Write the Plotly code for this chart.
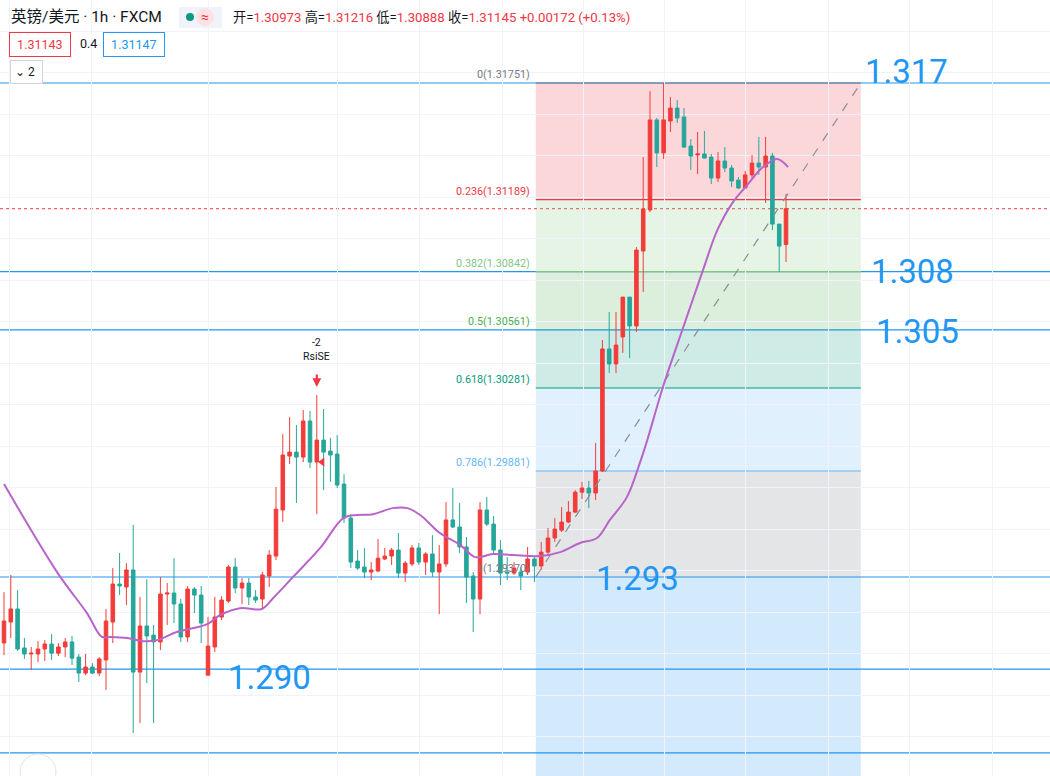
import plotly.graph_objects as go

# ---------------- data ----------------
opens = [1.29052, 1.29153, 1.29216, 1.29028, 1.28999, 1.28999, 1.29023, 1.29047, 1.29003, 1.29033,
         1.29057, 1.28984, 1.28907, 1.28936, 1.28907, 1.28970, 1.29153, 1.29336, 1.29322, 1.29404,
         1.28912, 1.29134, 1.29090, 1.29057, 1.29288, 1.29293, 1.29240, 1.29081, 1.29312, 1.29283,
         1.28897, 1.29033, 1.29177, 1.29254, 1.29418, 1.29317, 1.29341, 1.29274, 1.29264, 1.29375,
         1.29471, 1.29693, 1.29953, 1.29972, 1.29948, 1.30122, 1.29924, 1.30030, 1.29977, 1.29963,
         1.29818, 1.29654, 1.29447, 1.29418, 1.29394, 1.29399, 1.29457, 1.29471, 1.29500, 1.29389,
         1.29433, 1.29510, 1.29442, 1.29481, 1.29394, 1.29433, 1.29645, 1.29611, 1.29515, 1.29375,
         1.29264, 1.29693, 1.29625, 1.29500, 1.29394, 1.29389, 1.29394, 1.29394, 1.29457, 1.29423,
         1.29490, 1.29558, 1.29596, 1.29635, 1.29683, 1.29779, 1.29799, 1.29775, 1.29881, 1.30469,
         1.30397, 1.30527, 1.30719, 1.30580, 1.30941, 1.31139, 1.31573, 1.31414, 1.31568, 1.31630,
         1.31587, 1.31447, 1.31404, 1.31409, 1.31394, 1.31293, 1.31375, 1.31341, 1.31283, 1.31245,
         1.31308, 1.31365, 1.31346, 1.31399, 1.31071, 1.30973]
highs = [1.29297, 1.29380, 1.29307, 1.29076, 1.29033, 1.29061, 1.29066, 1.29095, 1.29052, 1.29076,
         1.29086, 1.28999, 1.28999, 1.28955, 1.28984, 1.29216, 1.29413, 1.29486, 1.29437, 1.29621,
         1.29274, 1.29360, 1.29139, 1.29370, 1.29341, 1.29461, 1.29264, 1.29327, 1.29322, 1.29327,
         1.29177, 1.29274, 1.29278, 1.29428, 1.29461, 1.29365, 1.29365, 1.29307, 1.29394, 1.29500,
         1.29804, 1.30059, 1.30141, 1.30103, 1.30175, 1.30170, 1.30247, 1.30180, 1.30040, 1.30054,
         1.29866, 1.29673, 1.29500, 1.29510, 1.29442, 1.29553, 1.29510, 1.29510, 1.29582, 1.29447,
         1.29524, 1.29534, 1.29490, 1.29572, 1.29524, 1.29731, 1.29799, 1.29727, 1.29563, 1.29394,
         1.29731, 1.29755, 1.29664, 1.29548, 1.29466, 1.29442, 1.29418, 1.29515, 1.29466, 1.29539,
         1.29606, 1.29654, 1.29707, 1.29736, 1.29789, 1.29828, 1.29833, 1.30016, 1.30512, 1.30647,
         1.30647, 1.30719, 1.30719, 1.30960, 1.31394, 1.31712, 1.31582, 1.31751, 1.31683, 1.31669,
         1.31630, 1.31481, 1.31515, 1.31520, 1.31409, 1.31418, 1.31442, 1.31356, 1.31298, 1.31327,
         1.31404, 1.31491, 1.31491, 1.31414, 1.31071, 1.31216]
lows = [1.28994, 1.29076, 1.29013, 1.28975, 1.28922, 1.28960, 1.28965, 1.28970, 1.28989, 1.28984,
        1.28946, 1.28864, 1.28897, 1.28902, 1.28893, 1.28825, 1.29052, 1.29283, 1.29235, 1.28618,
        1.28666, 1.28859, 1.28666, 1.29018, 1.29139, 1.29148, 1.29057, 1.29057, 1.29196, 1.29052,
        1.28897, 1.29008, 1.29163, 1.29245, 1.29293, 1.29240, 1.29235, 1.29245, 1.29220, 1.29322,
        1.29452, 1.29635, 1.29915, 1.29727, 1.29924, 1.29895, 1.29673, 1.29789, 1.29828, 1.29799,
        1.29630, 1.29413, 1.29404, 1.29365, 1.29355, 1.29394, 1.29452, 1.29428, 1.29365, 1.29346,
        1.29423, 1.29428, 1.29380, 1.29370, 1.29191, 1.29418, 1.29606, 1.29486, 1.29245, 1.29105,
        1.29191, 1.29616, 1.29481, 1.29331, 1.29355, 1.29380, 1.29307, 1.29380, 1.29346, 1.29404,
        1.29476, 1.29539, 1.29587, 1.29630, 1.29678, 1.29746, 1.29702, 1.29741, 1.29876, 1.30353,
        1.30353, 1.30450, 1.30425, 1.30551, 1.30744, 1.31129, 1.31346, 1.31385, 1.31515, 1.31558,
        1.31438, 1.31332, 1.31312, 1.31389, 1.31264, 1.31274, 1.31322, 1.31250, 1.31240, 1.31245,
        1.31288, 1.31308, 1.31173, 1.31042, 1.30840, 1.30888]
closes = [1.29158, 1.29216, 1.29023, 1.28999, 1.29003, 1.29023, 1.29047, 1.29003, 1.29033, 1.29057,
          1.28979, 1.28907, 1.28936, 1.28907, 1.28975, 1.29158, 1.29336, 1.29327, 1.29404, 1.28912,
          1.29134, 1.29086, 1.29057, 1.29288, 1.29293, 1.29240, 1.29081, 1.29312, 1.29283, 1.29148,
          1.29037, 1.29177, 1.29259, 1.29418, 1.29317, 1.29341, 1.29274, 1.29259, 1.29380, 1.29476,
          1.29697, 1.29958, 1.29972, 1.29948, 1.30122, 1.29924, 1.30030, 1.29972, 1.29958, 1.29813,
          1.29654, 1.29442, 1.29413, 1.29394, 1.29404, 1.29461, 1.29471, 1.29500, 1.29389, 1.29437,
          1.29510, 1.29442, 1.29481, 1.29394, 1.29433, 1.29645, 1.29611, 1.29515, 1.29370, 1.29264,
          1.29693, 1.29625, 1.29500, 1.29389, 1.29389, 1.29413, 1.29375, 1.29457, 1.29423, 1.29490,
          1.29558, 1.29601, 1.29635, 1.29683, 1.29779, 1.29799, 1.29775, 1.29881, 1.30469, 1.30397,
          1.30488, 1.30719, 1.30580, 1.30946, 1.31144, 1.31573, 1.31414, 1.31573, 1.31630, 1.31582,
          1.31442, 1.31399, 1.31409, 1.31389, 1.31293, 1.31375, 1.31341, 1.31279, 1.31245, 1.31308,
          1.31365, 1.31346, 1.31399, 1.31071, 1.30965, 1.31145]
bars = list(range(len(opens)))

# moving average line, read at sample bars
ma_bar = [0, 7.9, 12.2, 14.4, 15.6, 18.1, 20.4, 22.5, 25.4, 29.9, 31.8, 34.7, 37.9, 39.6, 42.5,
          46.5, 49.9, 51.9, 54.3, 57.2, 59.3, 61.2, 64.1, 67.1, 69.3, 71.9, 74.9, 78.8, 81.8,
          84.7, 87.2, 89.1, 91.6, 93.5, 94.6, 96.9, 99.9, 102.8, 104.9, 107.2, 109.3, 111.6,
          113.7, 115.3]
ma_val = [1.29818, 1.29389, 1.29196, 1.29081, 1.29081, 1.29076, 1.29061, 1.29066, 1.29105, 1.29143,
          1.29187, 1.29220, 1.29216, 1.29269, 1.29370, 1.29510, 1.29654, 1.29669, 1.29673, 1.29702,
          1.29702, 1.29669, 1.29582, 1.29524, 1.29466, 1.29481, 1.29476, 1.29471, 1.29490, 1.29534,
          1.29558, 1.29645, 1.29755, 1.29919, 1.30030, 1.30286, 1.30575, 1.30850, 1.31042, 1.31177,
          1.31259, 1.31346, 1.31385, 1.31346]

# Fibonacci retracement
fib_ratios = ["0", "0.236", "0.382", "0.5", "0.618", "0.786", "1"]
fib_prices = [1.31751, 1.31189, 1.30842, 1.30561, 1.30281, 1.29881, 1.29370]
fib_ext_price = 1.27898
fib_bar_start, fib_bar_end = 78.2, 126.0

# user horizontal lines and their labels
hline_prices = [1.31751, 1.30842, 1.30561, 1.29370, 1.28926, 1.28522]
hline_labels = ["1.317", "1.308", "1.305", "1.293", "1.290", None]
hline_label_bar = [126.3, 127.2, 127.9, 86.8, 32.6, None]

last_price = 1.31145
grid_bars = [0.88, 12.94, 30.0, 48.97, 61.03, 73.24, 85.15, 97.2, 109.1, 121.2, 133.2, 145.3]

# ---------------- styling ----------------
RED = "#f23c3a"
GREEN = "#26a69a"
BLUE = "#2196f3"
FONT = "Roboto, 'Noto Sans CJK SC', sans-serif"
W, H = 1050, 776

fig = go.Figure()

# Fib zones (below candles)
zone_fill = ["rgba(242,54,69,0.2)", "rgba(129,199,132,0.2)", "rgba(76,175,80,0.2)",
             "rgba(8,153,129,0.2)", "rgba(100,181,246,0.2)", "rgba(120,123,134,0.2)"]
fib_colors = ["#787b86", "#f23645", "#81c784", "#4caf50", "#089981", "#64b5f6", "#787b86"]
for k in range(6):
    fig.add_shape(type="rect", xref="x", yref="y", x0=fib_bar_start, x1=fib_bar_end,
                  y0=fib_prices[k + 1], y1=fib_prices[k], fillcolor=zone_fill[k],
                  line_width=0, layer="below")
fig.add_shape(type="rect", xref="x", yref="y", x0=fib_bar_start, x1=fib_bar_end,
              y0=fib_ext_price, y1=fib_prices[-1], fillcolor="rgba(33,150,243,0.2)",
              line_width=0, layer="below")

# user blue lines
for p in hline_prices:
    fig.add_shape(type="line", xref="paper", yref="y", x0=0, x1=1, y0=p, y1=p,
                  line=dict(color=BLUE, width=1.2), layer="below")

# fib level lines on top of blue ones (except 0.5 & 1 which show blue)
for k, p in enumerate(fib_prices):
    if fib_ratios[k] in ("0.5", "1"):
        continue
    fig.add_shape(type="line", xref="x", yref="y", x0=fib_bar_start, x1=fib_bar_end, y0=p, y1=p,
                  line=dict(color=fib_colors[k], width=1.2), layer="below")

# current price dotted line
fig.add_shape(type="line", xref="paper", yref="y", x0=0, x1=1, y0=last_price, y1=last_price,
              line=dict(color="#f23645", width=1, dash="dot"), layer="below")

# diagonal trend line of the fib tool
fig.add_trace(go.Scatter(x=[fib_bar_start, fib_bar_end], y=[fib_prices[-1], fib_prices[0]],
                         mode="lines", line=dict(color="#8a8d96", width=1.2, dash="dash"),
                         hoverinfo="skip", showlegend=False))

# moving average
fig.add_trace(go.Scatter(x=ma_bar, y=ma_val, mode="lines", line_shape="spline",
                         line=dict(color="#b864c9", width=2), hoverinfo="skip", showlegend=False))

# candles (red = up, green = down)
fig.add_trace(go.Candlestick(
    x=bars, open=opens, high=highs, low=lows, close=closes,
    increasing=dict(line=dict(color=RED, width=1), fillcolor=RED),
    decreasing=dict(line=dict(color=GREEN, width=1), fillcolor=GREEN),
    whiskerwidth=0, showlegend=False))

# RsiSE signal marker
fig.add_trace(go.Scatter(x=[46.8], y=[1.29924], mode="markers",
                         marker=dict(symbol="triangle-left", size=8, color="#f23645"),
                         hoverinfo="skip", showlegend=False))

ann = []
# fib labels
for k, p in enumerate(fib_prices):
    ann.append(dict(x=fib_bar_start, y=p, xref="x", yref="y", xanchor="right", yanchor="bottom",
                    xshift=-4, yshift=0, showarrow=False,
                    text=f"{fib_ratios[k]}({p:.5f})",
                    font=dict(size=10.8, color=fib_colors[k], family=FONT)))

# big blue labels
yshifts = [11, 0, -2, -1, -8]
for k, lab in enumerate(hline_labels):
    if lab is None:
        continue
    ann.append(dict(x=hline_label_bar[k], y=hline_prices[k], xref="x", yref="y",
                    xanchor="left", yanchor="middle", yshift=yshifts[k], showarrow=False,
                    text=lab, font=dict(size=33, color=BLUE, family=FONT)))

# RsiSE text and arrow
ann.append(dict(x=46, y=1.30247, xref="x", yref="y", yshift=46, showarrow=False,
                text="-2<br>RsiSE", font=dict(size=10.5, color="#131722", family=FONT),
                align="center"))
ann.append(dict(x=46, y=1.30247, xref="x", yref="y", yshift=8, ax=0, ay=-14,
                showarrow=True, arrowhead=2, arrowsize=0.8, arrowwidth=2.2, arrowcolor="#f23645",
                text=""))


def px(x):
    return x / W


def py(y):
    return 1 - y / H


# header texts
ann.append(dict(x=px(9), y=py(17), xref="paper", yref="paper", xanchor="left", yanchor="middle",
                showarrow=False, text="英镑/美元 · 1h · FXCM",
                font=dict(size=15.5, color="#131722", family=FONT)))
rv = "color:#f23645"
ohlc = (f"开=<span style='{rv}'>1.30973</span> 高=<span style='{rv}'>1.31216</span> "
        f"低=<span style='{rv}'>1.30888</span> 收=<span style='{rv}'>1.31145</span> "
        f"<span style='{rv}'>+0.00172 (+0.13%)</span>")
ann.append(dict(x=px(231), y=py(17), xref="paper", yref="paper", xanchor="left", yanchor="middle",
                showarrow=False, text=ohlc, font=dict(size=13.2, color="#131722", family=FONT)))
ann.append(dict(x=px(205), y=py(17), xref="paper", yref="paper", xanchor="center", yanchor="middle",
                showarrow=False, text="≈", font=dict(size=14, color="#f23645", family=FONT)))
ann.append(dict(x=px(9), y=py(44), xref="paper", yref="paper", xanchor="left", yanchor="middle",
                showarrow=False, text="&nbsp;1.31143&nbsp;",
                font=dict(size=12.5, color="#f23645", family=FONT),
                bordercolor="#f23645", borderwidth=1, borderpad=4, bgcolor="white"))
ann.append(dict(x=px(78), y=py(43), xref="paper", yref="paper", xanchor="left", yanchor="middle",
                showarrow=False, text="0.4", font=dict(size=12.5, color="#131722", family=FONT)))
ann.append(dict(x=px(103), y=py(44), xref="paper", yref="paper", xanchor="left", yanchor="middle",
                showarrow=False, text="&nbsp;1.31147&nbsp;",
                font=dict(size=12.5, color="#2196f3", family=FONT),
                bordercolor="#2196f3", borderwidth=1, borderpad=4, bgcolor="white"))
ann.append(dict(x=px(10), y=py(72), xref="paper", yref="paper", xanchor="left", yanchor="middle",
                showarrow=False, text="⌄&nbsp;2&nbsp;", font=dict(size=12, color="#131722", family=FONT),
                bordercolor="#d1d4dc", borderwidth=1, borderpad=4, bgcolor="white"))

# header pill + dots
shapes_extra = [
    dict(type="rect", xref="paper", yref="paper", x0=px(179), x1=px(222), y0=py(28), y1=py(7),
         fillcolor="#f0f3fa", line_width=0),
    dict(type="circle", xref="paper", yref="paper", x0=px(196), x1=px(214), y0=py(26), y1=py(8),
         fillcolor="#fde2e4", line_width=0),
    dict(type="circle", xref="paper", yref="paper", x0=px(186), x1=px(194), y0=py(21), y1=py(13),
         fillcolor="#089981", line_width=0),
    dict(type="circle", xref="paper", yref="paper", x0=px(20), x1=px(56), y0=py(790), y1=py(754),
         fillcolor="white", line=dict(color="#e0e3eb", width=1)),
]
for s in shapes_extra:
    fig.add_shape(**s)

fig.update_layout(
    width=W, height=H, margin=dict(l=0, r=0, t=0, b=0),
    paper_bgcolor="white", plot_bgcolor="white",
    font=dict(family=FONT), boxgap=0.25,
    annotations=ann, showlegend=False, hovermode=False,
    xaxis=dict(range=[-0.588, 153.82], rangeslider=dict(visible=False), showticklabels=False,
               tickmode="array", tickvals=grid_bars, showgrid=True, gridcolor="#f0f3fa",
               zeroline=False, ticks="", showline=False),
    yaxis=dict(range=[1.28411, 1.32151], showticklabels=False, tick0=0, dtick=0.002,
               showgrid=True, gridcolor="#f0f3fa", zeroline=False, ticks="", showline=False),
)

fig.write_html("out.html", config={"displayModeBar": False},
               post_script="document.body.style.margin='0';")
